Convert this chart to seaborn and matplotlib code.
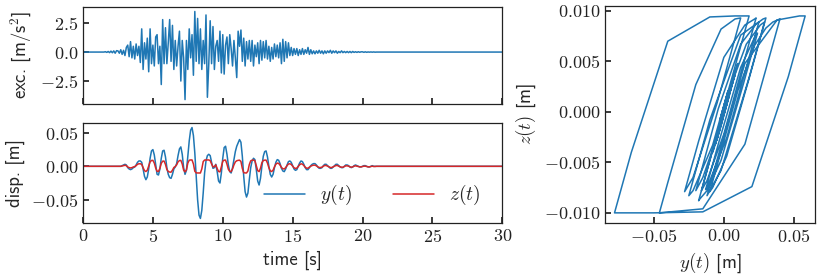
import numpy as np
import pandas as pd
import matplotlib
matplotlib.use("Agg")
import matplotlib.pyplot as plt
import seaborn as sns

# ground excitation [m/s^2], sampled every 0.1 s from 1.5 s to 21.0 s
exc_vals = [
    0.0, 0.03, -0.03, 0.05, -0.05,
    0.08, -0.06, 0.1, -0.1, 0.12, 0.1, -0.1, 0.2, -0.2, 0.15,
    -0.3, 0.4, 0.6, -0.4, 0.9, -0.5, 0.5, -0.6, 0.7, -0.3,
    0.5, -0.9, 2.0, -1.5, 0.8, -0.6, 1.2, -1.7, 2.0, -1.0,
    0.6, -1.2, 1.3, 1.5, -1.0, 0.5, -2.8, 2.8, -1.0, 2.1,
    -1.0, 0.8, 2.8, -0.8, 2.3, -1.5, 1.0, -1.2, 0.5, 1.8,
    -2.5, 1.0, -0.5, -4.1, 1.0, -1.5, 2.0, -0.5, 1.5, -2.0,
    3.5, -0.8, 2.9, -1.0, 2.0, -1.5, 1.0, -1.0, 3.2, -3.9,
    -1.0, 2.7, -1.0, 2.2, -1.5, 0.5, 1.0, -0.8, 1.8, -1.8,
    1.5, -1.9, 0.6, 1.3, -1.0, 1.5, 0.3, -1.2, 1.0, -0.5,
    -2.2, 1.8, 0.5, 1.9, -0.8, 1.2, -1.2, 0.9, -0.6, 1.0,
    -0.8, 1.0, -1.2, 0.6, -0.4, 0.8, -1.0, 1.0, -0.7, 0.9,
    -0.5, 1.0, -0.6, 0.5, -0.8, 0.4, -0.6, 0.7, -0.4, 0.6,
    -0.5, 0.8, -1.0, 1.1, -0.8, 0.9, -0.5, 0.8, -0.3, 0.4,
    -0.3, 0.3, -0.2, 0.3, -0.3, 0.2, -0.2, 0.3, -0.2, 0.2,
    -0.1, 0.4, -0.2, 0.2, -0.15, 0.1, -0.15, 0.1, -0.1, 0.15,
    -0.1, 0.1, -0.15, 0.1, -0.1, 0.1, -0.05, 0.15, -0.1, 0.1,
    -0.05, 0.1, -0.1, 0.05, -0.05, 0.1, -0.05, 0.05, -0.05, 0.05,
    -0.05, 0.05, -0.05, 0.05, -0.03, 0.03, -0.03, 0.03, -0.02, 0.02,
    0.02, -0.02, 0.02, -0.02, 0.01, -0.01, 0.01, -0.01, 0.01, -0.01, 0.0,
]

# displacement y(t) and hysteretic part z(t) [mm], every 0.1 s from 2.5 s to 21.0 s
y_mm = [
    0, 0, 0, 1, 2,
    3, 2, -2, -4, -5, -4, -2, -1, 2, 6,
    8, 8, 6, -4, -15, -20, -16, -4, 12, 23,
    25, 17, 2, -12, -13, -4, 12, 23, 24, 14,
    -2, -12, -17, -18, -12, -4, -1, 4, 16, 26,
    29, 18, -2, -12, -6, 15, 38, 54, 58, 46,
    20, -15, -50, -73, -78, -66, -40, -10, 8, 16,
    18, 16, 6, -3, -2, 3, -8, -22, -25, -10,
    12, 28, 30, 18, 2, -8, -10, -2, 10, 22,
    30, 35, 40, 36, 15, -15, -38, -46, -40, -20,
    -2, 8, 12, 10, -5, -22, -28, -18, 0, 15,
    22, 23, 14, 0, -12, -16, -12, -2, 6, 10,
    9, 4, -3, -7, -8, -4, 2, 7, 8, 6,
    1, -4, -6, -5, 0, 5, 8, 7, 3, -2,
    -5, -5, -2, 1, 3, 4, 4, 2, -1, -3,
    -3, -2, 1, 3, 3, 1, -1, -3, -3, -1,
    1, 3, 3, 1, -1, -2, -2, 0, 2, 2,
    1, -1, -2, -1, 1, 2, 1, 0, -1, -1,
    0, 1, 1, 0, -1, -1, 0, 1, 0, 0, 0,
]
z_mm = [
    0, 0, 0, 0.5, 1.0,
    1.5, 1.0, -1.0, -2.0, -2.5, -2.0, -1.0, -0.5, 1.0, 3.0,
    3.8, 3.8, 2.8, -2.1, -6.5, -7.8, -5.8, 0.3, 6.7, 8.7,
    8.9, 4.9, -2.6, -7.5, -7.7, -3.2, 4.4, 7.7, 7.8, 2.8,
    -4.8, -7.8, -8.6, -8.8, -5.8, -1.8, -0.3, 2.2, 6.7, 8.6,
    8.9, 3.4, -5.8, -8.3, -5.3, 4.8, 9.1, 9.5, 9.5, 3.5,
    -7.4, -9.9, -10.0, -10.0, -10.0, -4.0, 7.0, 9.4, 9.5, 9.5,
    9.5, 8.5, 3.5, -0.9, -0.4, 2.1, -3.3, -7.8, -8.3, -0.8,
    7.6, 9.2, 9.3, 3.3, -4.4, -7.5, -7.9, -3.9, 2.1, 6.6,
    8.3, 8.9, 9.2, 7.2, -3.2, -9.6, -9.9, -10.0, -7.0, 2.7,
    8.2, 9.2, 9.3, 8.3, 0.8, -6.5, -7.9, -2.9, 5.4, 8.6,
    9.2, 9.3, 4.8, -2.2, -6.8, -7.8, -5.8, -0.8, 3.1, 4.8,
    4.3, 1.8, -1.7, -3.6, -4.0, -2.0, 1.0, 3.4, 3.8, 2.8,
    0.3, -2.2, -3.2, -2.7, -0.2, 2.3, 3.7, 3.2, 1.2, -1.4,
    -2.8, -2.8, -1.3, 0.2, 1.2, 1.7, 1.7, 0.7, -0.8, -1.8,
    -1.8, -1.3, 0.2, 1.2, 1.2, 0.2, -0.8, -1.8, -1.8, -0.8,
    0.2, 1.2, 1.2, 0.2, -0.8, -1.3, -1.3, -0.3, 0.7, 0.7,
    0.2, -0.8, -1.3, -0.8, 0.2, 0.7, 0.2, -0.3, -0.8, -0.8,
    -0.3, 0.2, 0.2, -0.3, -0.8, -0.8, -0.3, 0.2, -0.3, -0.3, 0.0,
]

t_end = 30.0
t_exc = np.round(np.arange(1.5, 21.05, 0.1), 1)
t_disp = np.round(np.arange(2.5, 21.05, 0.1), 1)

# quiet before / after the record
exc_df = pd.DataFrame({"t": np.r_[0.0, t_exc, t_end], "a": np.r_[0.0, exc_vals, 0.0]})
disp_df = pd.DataFrame({
    "t": np.r_[0.0, t_disp, t_end],
    "y": np.r_[0.0, y_mm, 0.0] / 1000.0,
    "z": np.r_[0.0, z_mm, 0.0] / 1000.0,
})

blue = "#1f77b4"
red = "#d62728"

sns.set_theme(style="ticks")
plt.rcParams.update({
    "font.family": ["cmr10", "DejaVu Serif"],
    "mathtext.fontset": "cm",
    "axes.formatter.use_mathtext": True,
    "axes.unicode_minus": True,
    "xtick.direction": "in",
    "ytick.direction": "in",
    "xtick.labelsize": 13,
    "ytick.labelsize": 13,
    "axes.edgecolor": "#222222",
    "axes.linewidth": 0.9,
    "xtick.color": "#222222",
    "ytick.color": "#222222",
    "xtick.major.size": 4,
    "ytick.major.size": 4,
})
lab = dict(fontfamily="cmss10", fontsize=13.5)

fig = plt.figure(figsize=(8.22, 2.77), dpi=100)
ax1 = fig.add_axes([0.101, 0.6245, 0.510, 0.350])
ax2 = fig.add_axes([0.101, 0.195, 0.510, 0.361], sharex=ax1)
ax3 = fig.add_axes([0.736, 0.196, 0.2551, 0.782])

sns.lineplot(data=exc_df, x="t", y="a", ax=ax1, color=blue, lw=1.1, estimator=None)
ax1.set_ylabel("exc. [m/s$^2$]", **lab)
ax1.set_xlabel("")
ax1.set_yticks([-2.5, 0.0, 2.5])
ax1.tick_params(labelbottom=False)

sns.lineplot(data=disp_df, x="t", y="y", ax=ax2, color=blue, lw=1.1,
             estimator=None, label="$y(t)$")
sns.lineplot(data=disp_df, x="t", y="z", ax=ax2, color=red, lw=1.1,
             estimator=None, label="$z(t)$")
ax2.set_xlim(0, 30)
ax2.set_xticks([0, 5, 10, 15, 20, 25, 30])
ax2.set_yticks([-0.05, 0.0, 0.05])
ax2.set_ylabel("disp. [m]", **lab)
ax2.set_xlabel("time [s]", **lab)
ax2.legend(loc="lower right", bbox_to_anchor=(0.99, -0.02), ncol=2, frameon=False,
           fontsize=14, handlelength=2.1, handletextpad=0.8, columnspacing=2.1)

sns.lineplot(data=disp_df, x="y", y="z", ax=ax3, color=blue, lw=1.1,
             sort=False, estimator=None)
ax3.set_xticks([-0.05, 0.0, 0.05])
ax3.set_yticks([-0.010, -0.005, 0.0, 0.005, 0.010])
ax3.set_xlabel("$y(t)$ [m]", **lab)
ax3.set_ylabel("$z(t)$ [m]", **lab)

fig.savefig("out.png", dpi=100)
